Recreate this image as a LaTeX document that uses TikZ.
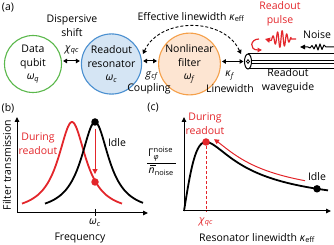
\documentclass[tikz,border=0pt]{standalone}
\usepackage{fontspec}
\setmainfont{Open Sans}
\usetikzlibrary{arrows.meta}
\definecolor{qgreen}{HTML}{5BB84C}
\definecolor{rblue}{HTML}{4A8FD0}
\definecolor{rbluefill}{HTML}{D5E5F4}
\definecolor{forange}{HTML}{F5A04A}
\definecolor{forangefill}{HTML}{FDE5D2}
\definecolor{myred}{HTML}{E3262B}
\newcommand{\mysub}[1]{\textsubscript{#1}}
\newcommand{\smallscr}{\fontsize{7.5}{8}\selectfont}
\begin{document}
\begin{tikzpicture}[x=1pt,y=-1pt, font=\fontsize{10.5}{14}\selectfont,
  circ/.style={circle, minimum size=57pt, inner sep=0pt, line width=1.1pt, align=center, font=\fontsize{10.5}{13.5}\selectfont},
  dbl/.style={{Triangle[length=4pt,width=4.5pt]}-{Triangle[length=4pt,width=4.5pt]}, line width=1pt},
  lbl/.style={align=center, inner sep=0pt},
  ax/.style={-{Triangle[length=5pt,width=4.5pt]}, line width=1pt},
  curve/.style={line width=1.8pt},
  dot/.style={circle, minimum size=7.5pt, inner sep=0pt},
  redtxt/.style={text=myred, align=center, inner sep=0pt},
]
\useasboundingbox (0,0) rectangle (334,245);

% ---------- panel (a) ----------
\node[lbl] (pa) at (8,8) {(a)};
\node[circ, draw=qgreen, fill=white] (qubit) at (33,64) {Data\\qubit\\\textit{ω}\mysub{\textit{q}}};
\node[circ, draw=rblue, fill=rbluefill] (res) at (111.5,64) {Readout\\resonator\\\textit{ω}\mysub{\textit{c}}};
\node[circ, draw=forange, fill=forangefill] (filt) at (189.5,64) {Nonlinear\\filter\\\textit{ω}\mysub{\textit{f}}};

\coordinate (wg) at (243.5,61.5);
\draw[dbl, shorten <=1pt, shorten >=1pt] ([yshift=3pt]qubit.east) -- ([yshift=3pt]res.west);
\draw[dbl, shorten <=1pt, shorten >=1pt] ([yshift=3pt]res.east) -- ([yshift=3pt]filt.west);
\draw[dbl, shorten <=1pt] ([yshift=2.5pt]filt.east) -- (wg);

\node[lbl] (disp) at (72,25.5) {Dispersive\\shift};
\node[lbl] (chi) at (72,50) {\textit{χ}\mysub{\textit{qc}}};
\node[lbl] (gcf) at (152,76) {\textit{g}\mysub{\textit{cf}}};
\node[lbl] (coup) at (149,89) {Coupling};
\node[lbl] (kf) at (230,76) {\textit{κ}\mysub{\textit{f}}};
\node[lbl] (lw) at (230,89) {Linewidth};
\node[lbl] (eff) at (191,17) {Effective linewidth \textit{κ}\mysub{eff}};

\coordinate (effL) at (143,54);
\coordinate (effR) at (241,54);
\draw[line width=0.9pt, dash pattern=on 3pt off 2pt, {Triangle[length=4pt,width=4.5pt]}-{Triangle[length=4pt,width=4.5pt]}]
  (effL) .. controls (160,17) and (224,17) .. (effR);

% waveguide
\draw[line width=1pt] (248,54) -- (334,54);
\draw[line width=1pt] (248,69) -- (334,69);
\draw[line width=0.8pt] (248,60) -- (334,60);
\draw[line width=0.8pt] (248,63) -- (334,63);
\draw[line width=1pt, fill=white] (248,61.5) ellipse [x radius=3.5, y radius=7.5];
\draw[line width=0.8pt] (248,61.5) ellipse [x radius=1.5, y radius=1.8];
\node[lbl] (wglab) at (288,81) {Readout\\waveguide};

% readout pulse
\node[redtxt] (rpulse) at (280,14) {Readout\\pulse};
\coordinate (pulseR) at (296,39);
\coordinate (pulseL) at (265,39);
\draw[myred, line width=1.2pt, line join=round, -{Triangle[length=5pt,width=5pt]}]
  (pulseR) -- (291,39) -- plot[domain=291:271, samples=80] (\x, {39 - 8.5*exp(-((\x-281)/8)^2)*sin(360*(\x-281)/4.6)}) -- (pulseL);
\coordinate (curlA) at (259,39);
\coordinate (curlB) at (262,50);
\draw[myred, line width=1.2pt, -{Triangle[length=4.5pt,width=4.5pt]}]
  (curlA) .. controls (250,39) and (249,50) .. (curlB);

% noise
\node[lbl] (noise) at (317,35) {Noise};
\coordinate (noiseR) at (334,47);
\coordinate (noiseL) at (300,47);
\draw[line width=1pt, line join=round, -{Triangle[length=5pt,width=4.5pt]}]
  (noiseR) -- (326,47) -- (324,45) -- (322,49.5) -- (320,44) -- (318,50) -- (316,44.5) -- (314,49) -- (312,45.5) -- (310,48) -- (308,47) -- (noiseL);

% ---------- panel (b) ----------
\node[lbl] (pb) at (8,108) {(b)};
\coordinate (bO) at (17,213);
\coordinate (bX) at (148,213);
\coordinate (bY) at (17,117);
\draw[ax] (bO) -- (bX);
\draw[ax] (bO) -- (bY);
\coordinate (tickT) at (95,209);
\coordinate (tickB) at (95,216.5);
\draw[line width=1pt] (tickT) -- (tickB);
\node[lbl] (wc) at (95,223) {\textit{ω}\mysub{\textit{c}}};
\node[lbl] (freq) at (80,238) {Frequency};
\node[lbl, rotate=90] (ftrans) at (7,165) {Filter transmission};

\draw[curve, myred] plot[domain=22:122, samples=90] (\x,{213-91/(1+((\x-72)/17)^2)});
\draw[curve, black] plot[domain=45:143, samples=90] (\x,{213-91/(1+((\x-95)/17)^2)});
\node[dot, fill=black] (bdot) at (95,122) {};
\node[dot, fill=myred] (rdot) at (95,182) {};
\draw[myred, line width=1pt, -{Triangle[length=5pt,width=5pt]}, shorten <=3pt, shorten >=4pt] (bdot) -- (rdot);
\node[redtxt] (dur1) at (38,143.5) {During\\readout};
\node[lbl] (idle1) at (117,143) {Idle};

% ---------- panel (c) ----------
\node[lbl] (pc) at (153,108) {(c)};
\coordinate (cO) at (184,211);
\coordinate (cX) at (331,211);
\coordinate (cY) at (184,117);
\draw[ax] (cO) -- (cX);
\draw[ax] (cO) -- (cY);
\draw[curve] plot[domain=184:328, samples=160] (\x,{211-138*((\x-184)/22)/(1+((\x-184)/22)^2)});
\coordinate (chiB) at (206,211);
\node[dot, fill=myred] (cred) at (206,142) {};
\node[dot, fill=black] (cblk) at (317,188.8) {};
\draw[myred, line width=1pt, dash pattern=on 3pt off 2pt] (cred) -- (chiB);
\node[redtxt] (chiqc) at (206,222) {\textit{χ}\mysub{\textit{qc}}};
\node[lbl] (rlw) at (257,238) {Resonator linewidth \textit{κ}\mysub{eff}};
\node[redtxt] (dur2) at (205,123.5) {During\\readout};
\node[lbl] (idle2) at (317,177) {Idle};
\draw[myred, line width=1pt, -{Triangle[length=5pt,width=5pt]}]
  plot[domain=305:214, samples=60] (\x,{205-138*((\x-184)/22)/(1+((\x-184)/22)^2)});
% y label as a fraction
\node[lbl, anchor=south west] (ynum) at (148,161.5) {Γ\rlap{\raisebox{4.8pt}{\smallscr noise}}\raisebox{-2.6pt}{\smallscr\itshape φ}};
\coordinate (barL) at (147,163);
\coordinate (barR) at (176,163);
\draw[line width=0.5pt] (barL) -- (barR);
\node[lbl, anchor=north west] (yden) at (148.5,167.5) {\textit{n}\mysub{noise}};
\coordinate (macL) at (150.2,165.6);
\coordinate (macR) at (155.6,165.6);
\draw[line width=0.6pt] (macL) -- (macR);
\end{tikzpicture}
\end{document}
